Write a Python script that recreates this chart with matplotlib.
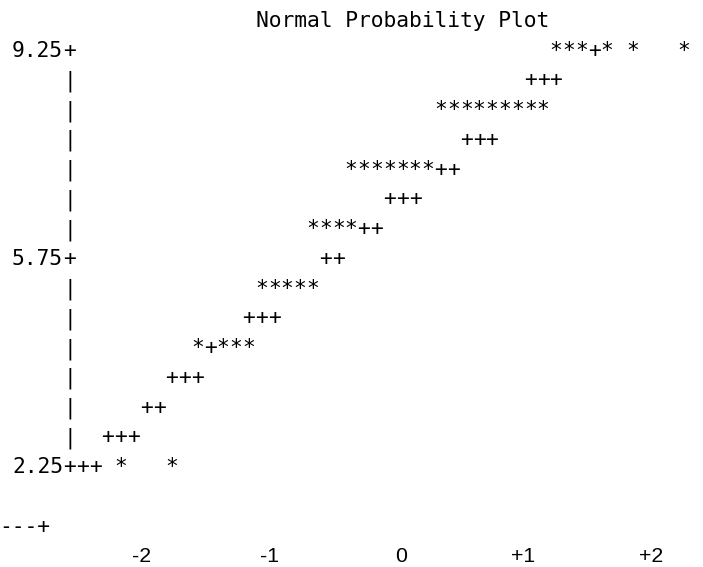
import matplotlib
matplotlib.use("Agg")
import matplotlib.pyplot as plt
import numpy as np

# ---------------- data ----------------
title = "Normal Probability Plot"

# vertical axis (data values) and horizontal axis (normal quantiles)
y_tick_values = [9.25, 5.75, 2.25]
x_tick_values = [-2, -1, 0, 1, 2]
x_tick_labels = ["-2", "-1", "0", "+1", "+2"]

# observed points ('*'), one list of quantiles per printed row value
star_y = [9.25, 8.25, 7.25, 6.25, 5.25, 4.25, 2.25]
star_z = [
    [1.2, 1.3, 1.4, 1.6, 1.8, 2.2],
    [0.3, 0.4, 0.5, 0.6, 0.7, 0.8, 0.9, 1.0, 1.1],
    [-0.4, -0.3, -0.2, -0.1, 0.0, 0.1, 0.2],
    [-0.7, -0.6, -0.5, -0.4],
    [-1.1, -1.0, -0.9, -0.8, -0.7],
    [-1.6, -1.4, -1.3, -1.2],
    [-2.2, -1.8],
]

# reference normal line ('+')
ref_y = [9.25, 8.75, 7.75, 7.25, 6.75, 6.25, 5.75, 4.75, 4.25, 3.75, 3.25, 2.75, 2.25]
ref_z = [
    [1.5],
    [1.0, 1.1, 1.2],
    [0.5, 0.6, 0.7],
    [0.3, 0.4],
    [-0.1, 0.0, 0.1],
    [-0.3, -0.2],
    [-0.6, -0.5],
    [-1.2, -1.1, -1.0],
    [-1.5],
    [-1.8, -1.7, -1.6],
    [-2.0, -1.9],
    [-2.3, -2.2, -2.1],
    [-2.5, -2.4],
]

# ---------------- layout (character grid) ----------------
COL = 0.1          # quantile units per printed column
ROW = 0.5          # data units per printed line
axis_z = -2.6      # column of the vertical axis

fig = plt.figure(figsize=(7.03, 5.67), dpi=100)
ax = fig.add_axes([0, 0, 1, 1])
ax.axis("off")
ax.set_xlim(-3.143, 2.349)
ax.set_ylim(0.671, 10.203)

font = dict(family=["DejaVu Sans Mono", "DejaVu Sans"], size=15.3, color="black")
tick_font = dict(family=["Liberation Sans", "DejaVu Sans"], size=15.3, color="black")

# title
ax.text(0.0, max(y_tick_values) + ROW, title, ha="center", va="baseline", **font)

# vertical axis: '+' at ticks, '|' between
rows = np.round(np.arange(max(y_tick_values), min(y_tick_values) - ROW / 2, -ROW), 2)
for y in rows:
    ch = "+" if any(abs(y - t) < 1e-6 for t in y_tick_values) else "|"
    ax.text(axis_z, y, ch, ha="center", va="baseline", **font)
for t in y_tick_values:
    lab = f"{t:.2f}"
    ax.text(axis_z - COL * (len(lab) + 1) / 2, t, lab, ha="center", va="baseline", **font)

# reference line
for y, zs in zip(ref_y, ref_z):
    for z in zs:
        ax.text(z, y, "+", ha="center", va="baseline", **font)

# observations
for y, zs in zip(star_y, star_z):
    for z in zs:
        ax.text(z, y, "*", ha="center", va="baseline", **font)

# bottom axis fragment
base_y = min(y_tick_values) - 2 * ROW
frag = "---+"
ax.text(axis_z - 5 * COL + COL * (len(frag) - 1) / 2, base_y, frag,
        ha="center", va="baseline", **font)

# x tick labels (last character sits on the tick column)
for v, lab in zip(x_tick_values, x_tick_labels):
    ax.text(v + 0.04, base_y - ROW + 0.01, lab,
            ha="right", va="baseline", **tick_font)

fig.savefig("out.png", dpi=100)
